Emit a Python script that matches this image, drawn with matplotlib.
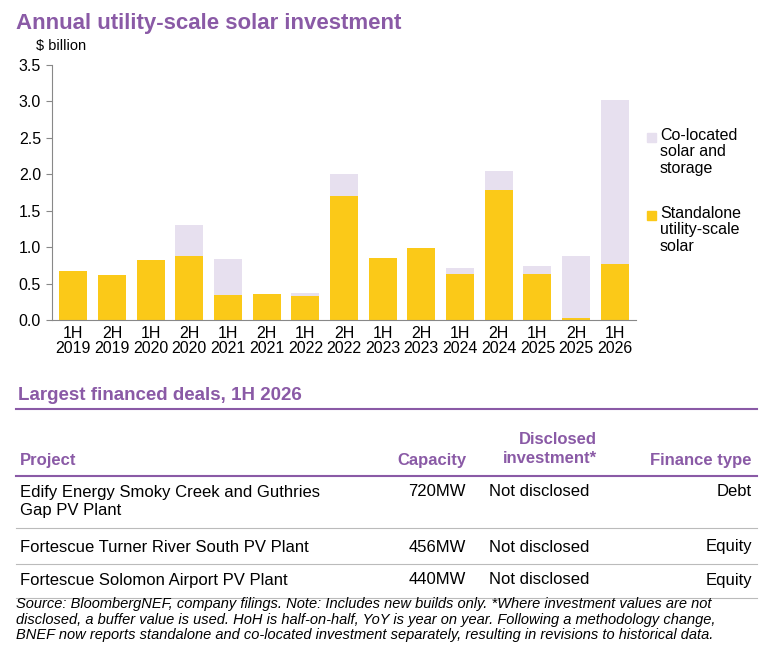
import matplotlib
matplotlib.use("Agg")
import matplotlib.pyplot as plt
from matplotlib.patches import Rectangle
from matplotlib.lines import Line2D

plt.rcParams["font.family"] = ["Liberation Sans", "DejaVu Sans"]

PURPURA = "#8a5aa6"
ORO = "#fbc918"
LAVANDA = "#e7e0ef"

periodos = ["1H\n2019", "2H\n2019", "1H\n2020", "2H\n2020", "1H\n2021", "2H\n2021",
            "1H\n2022", "2H\n2022", "1H\n2023", "2H\n2023", "1H\n2024", "2H\n2024",
            "1H\n2025", "2H\n2025", "1H\n2026"]
standalone = [0.67, 0.62, 0.82, 0.88, 0.34, 0.36, 0.33, 1.70, 0.85, 0.99, 0.63, 1.78, 0.63, 0.03, 0.77]
colocado = [0.00, 0.00, 0.00, 0.42, 0.50, 0.00, 0.04, 0.30, 0.00, 0.00, 0.08, 0.27, 0.11, 0.85, 2.25]

proyectos = ["Edify Energy Smoky Creek and Guthries\nGap PV Plant",
             "Fortescue Turner River South PV Plant",
             "Fortescue Solomon Airport PV Plant"]
capacidad = ["720MW", "456MW", "440MW"]
inversion = ["Not disclosed", "Not disclosed", "Not disclosed"]
tipo = ["Debt", "Equity", "Equity"]

W, H = 778, 658
fig = plt.figure(figsize=(W / 100, H / 100), dpi=100)


def fx(px):
    return px / W


def fy(py):
    return 1 - py / H


fig.text(fx(16), fy(23), "Annual utility-scale solar investment", color=PURPURA,
         fontsize=16, fontweight="bold", va="center")
fig.text(fx(36), fy(46), "$ billion", fontsize=10.5, va="center")

ax = fig.add_axes([fx(52), fy(320), fx(636) - fx(52), fy(65) - fy(320)])
x = range(len(periodos))
ax.bar(x, standalone, width=0.72, color=ORO)
ax.bar(x, colocado, width=0.72, bottom=standalone, color=LAVANDA)
ax.set_xlim(-0.55, len(periodos) - 0.45)
ax.set_ylim(0, 3.5)
ax.set_yticks([i * 0.5 for i in range(8)])
ax.set_yticklabels([f"{i * 0.5:.1f}" for i in range(8)], fontsize=11.5)
ax.set_xticks(list(x))
ax.set_xticklabels(periodos, fontsize=11.5, linespacing=1.0)
for lado in ("top", "right"):
    ax.spines[lado].set_visible(False)
for lado in ("left", "bottom"):
    ax.spines[lado].set_color("#888888")
ax.tick_params(axis="both", length=0, pad=4)
ax.tick_params(axis="y", length=4, color="#888888", direction="out")

# leyenda manual
for y0, color, texto in ((137, LAVANDA, "Co-located\nsolar and\nstorage"),
                         (215, ORO, "Standalone\nutility-scale\nsolar")):
    fig.add_artist(Rectangle((fx(647), fy(y0 + 5)), fx(9), fy(0) - fy(9),
                             transform=fig.transFigure, color=color))
    fig.text(fx(660), fy(y0 - 9), texto, fontsize=11.5, va="top", linespacing=1.12)

# tabla
fig.text(fx(18), fy(395), "Largest financed deals, 1H 2026", color=PURPURA,
         fontsize=13.5, fontweight="bold", va="center")


def linea(py, color, lw):
    fig.add_artist(Line2D([fx(16), fx(757)], [fy(py), fy(py)],
                          transform=fig.transFigure, color=color, lw=lw))


linea(409, PURPURA, 1.5)
linea(476, PURPURA, 1.5)
for py in (528, 564, 598):
    linea(py, "#bbbbbb", 0.8)

enc = dict(color=PURPURA, fontsize=12, fontweight="bold", va="center")
fig.text(fx(20), fy(460), "Project", ha="left", **enc)
fig.text(fx(466), fy(460), "Capacity", ha="right", **enc)
fig.text(fx(597), fy(449), "Disclosed\ninvestment*", ha="right", multialignment="right",
         linespacing=1.3, **enc)
fig.text(fx(752), fy(460), "Finance type", ha="right", **enc)

filas_y = [502, 547, 580]
for i, py in enumerate(filas_y):
    fig.text(fx(20), fy(py), proyectos[i], fontsize=12, va="center", linespacing=1.25)
    alto = 492 if i == 0 else py
    fig.text(fx(466), fy(alto), capacidad[i], fontsize=12, va="center", ha="right")
    fig.text(fx(489), fy(alto), inversion[i], fontsize=12, va="center", ha="left")
    fig.text(fx(752), fy(alto), tipo[i], fontsize=12, va="center", ha="right")

nota = ("Source: BloombergNEF, company filings. Note: Includes new builds only. *Where investment values are not\n"
        "disclosed, a buffer value is used. HoH is half-on-half, YoY is year on year. Following a methodology change,\n"
        "BNEF now reports standalone and co-located investment separately, resulting in revisions to historical data.")
fig.text(fx(16), fy(597), nota, fontsize=10.5, style="italic", va="top", linespacing=1.15)

fig.savefig("out.png", dpi=100)
